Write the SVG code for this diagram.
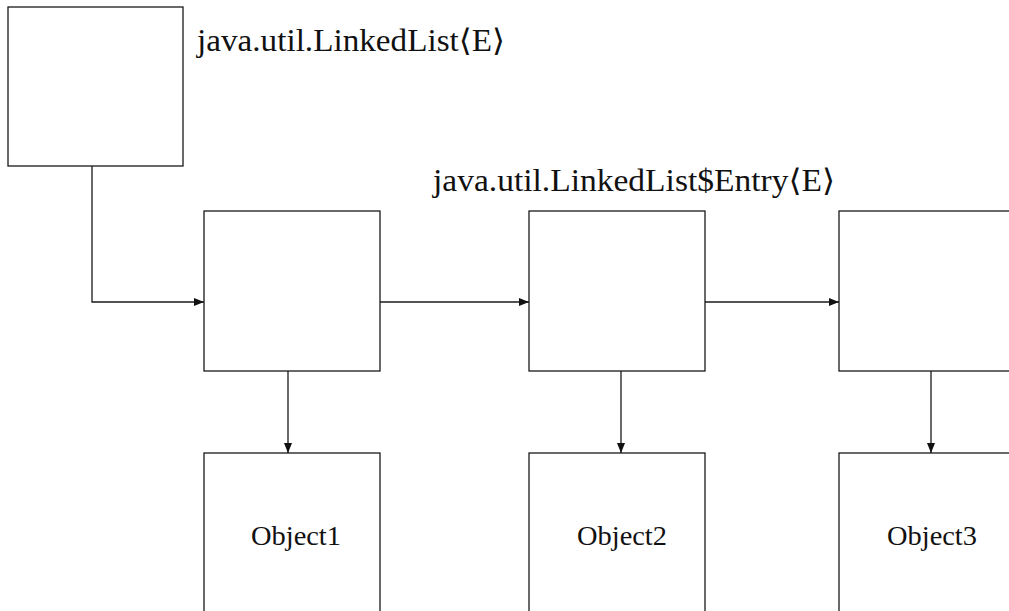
<svg xmlns="http://www.w3.org/2000/svg" width="1009" height="611" viewBox="0 0 1009 611">
  <style>
    .box { fill: #ffffff; stroke: #1a1a1a; stroke-width: 1.3; }
    .edge { fill: none; stroke: #1a1a1a; stroke-width: 1.3; }
    .label { font-family: "Liberation Serif", "DejaVu Serif", serif; fill: #111111; }
    .title { font-size: 31px; }
    .obj { font-size: 27px; text-anchor: middle; }
  </style>
  <defs>
    <marker id="arrow" markerUnits="userSpaceOnUse" markerWidth="10" markerHeight="8" refX="10" refY="4" orient="auto">
      <path d="M0,0 L10,4 L0,8 Z" fill="#111111"/>
    </marker>
  </defs>
  <rect width="1009" height="611" fill="#ffffff"/>

  <!-- list head -->
  <g id="linkedlist">
    <rect class="box" x="8" y="7" width="175" height="159"/>
    <text class="label title" x="197" y="51" textLength="308" lengthAdjust="spacingAndGlyphs">java.util.LinkedList⟨E⟩</text>
  </g>

  <!-- entry label -->
  <g id="entry-label">
    <text class="label title" x="433" y="191" textLength="402" lengthAdjust="spacingAndGlyphs">java.util.LinkedList$Entry⟨E⟩</text>
  </g>

  <!-- entries -->
  <g id="entry1">
    <rect class="box" x="204" y="211" width="176" height="160"/>
  </g>
  <g id="entry2">
    <rect class="box" x="529" y="211" width="176" height="160"/>
  </g>
  <g id="entry3">
    <rect class="box" x="839" y="211" width="176" height="160"/>
  </g>

  <!-- element objects -->
  <g id="object1">
    <rect class="box" x="204" y="453" width="176" height="170"/>
    <text class="label obj" x="296" y="545" textLength="90" lengthAdjust="spacingAndGlyphs">Object1</text>
  </g>
  <g id="object2">
    <rect class="box" x="529" y="453" width="176" height="170"/>
    <text class="label obj" x="622" y="545" textLength="90" lengthAdjust="spacingAndGlyphs">Object2</text>
  </g>
  <g id="object3">
    <rect class="box" x="839" y="453" width="176" height="170"/>
    <text class="label obj" x="932" y="545" textLength="90" lengthAdjust="spacingAndGlyphs">Object3</text>
  </g>

  <!-- references -->
  <g id="connectors">
    <path class="edge" d="M92,166 V302 H204" marker-end="url(#arrow)"/>
    <path class="edge" d="M380,302 H529" marker-end="url(#arrow)"/>
    <path class="edge" d="M705,302 H839" marker-end="url(#arrow)"/>
    <path class="edge" d="M288,371 V453" marker-end="url(#arrow)"/>
    <path class="edge" d="M621,371 V453" marker-end="url(#arrow)"/>
    <path class="edge" d="M931,371 V453" marker-end="url(#arrow)"/>
  </g>
</svg>
